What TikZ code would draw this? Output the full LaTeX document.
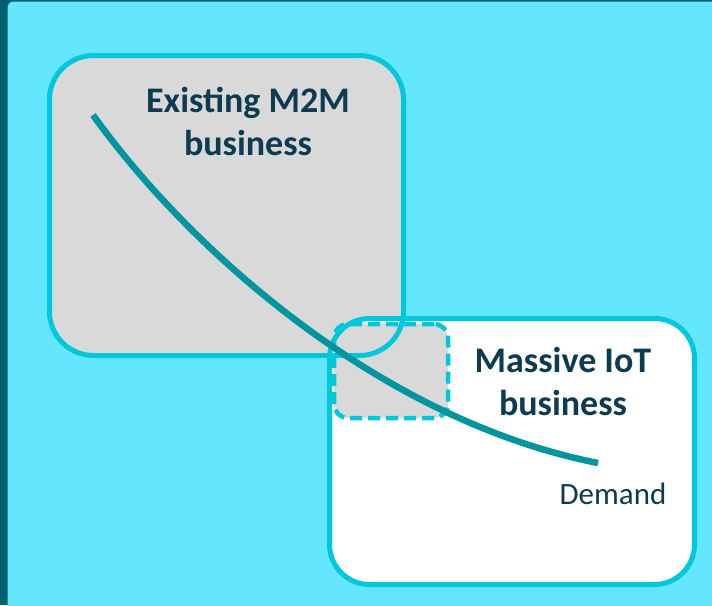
\documentclass[tikz,border=0pt]{standalone}
\usepackage{fontspec}
\setmainfont{Carlito}
\definecolor{bgcyan}{HTML}{65E6FF}
\definecolor{darkstrip}{HTML}{00606F}
\definecolor{boxline}{HTML}{00C8DC}
\definecolor{boxgrey}{HTML}{D9D9D9}
\definecolor{curvecol}{HTML}{00959F}
\definecolor{txt}{HTML}{0D3B4F}
\begin{document}
\begin{tikzpicture}[x=1pt,y=-1pt,
  bigbox/.style={rounded corners=42pt,line width=5pt,draw=boxline},
  overlapbox/.style={rounded corners=14pt,line width=4.5pt,draw=boxline,dash pattern=on 12pt off 6pt},
  title/.style={text=txt,font=\fontsize{36}{43}\selectfont\bfseries,align=center},
  label/.style={text=txt,font=\fontsize{31}{37}\selectfont}]
\useasboundingbox (0,0) rectangle (712,605);
\fill[darkstrip] (0,0) rectangle (712,605);
\fill[bgcyan,rounded corners=6pt] (7.5,1.5) rectangle (730,620);
% fills
\path[fill=boxgrey,rounded corners=44pt] (49.5,55.5) rectangle (403.5,355.5);
\path[fill=white,rounded corners=40pt] (329.5,318.5) rectangle (694.5,584.5);
\path[fill=boxgrey,rounded corners=14pt] (334,324) rectangle (448,418);
% borders as named nodes
\node[bigbox,rounded corners=44pt,minimum width=354pt,minimum height=300pt,inner sep=0pt] (m2m) at (226.5,205.5) {};
\node[bigbox,rounded corners=40pt,minimum width=365pt,minimum height=266pt,inner sep=0pt] (iot) at (512,451.5) {};
\node[overlapbox,minimum width=114pt,minimum height=94pt,inner sep=0pt] (ovl) at (391,371) {};
% curve
\coordinate (cs) at (93,115);
\coordinate (ce) at (598,463);
\draw[curvecol,line width=6.5pt] (cs) .. controls (190,250) and (380,420) .. (ce);
% texts
\node[title] (t1) at (248,121) {Existing M2M\\business};
\node[title] (t2) at (563,381) {Massive IoT\\business};
\node[label] (dem) at (613,494) {Demand};
\end{tikzpicture}
\end{document}
